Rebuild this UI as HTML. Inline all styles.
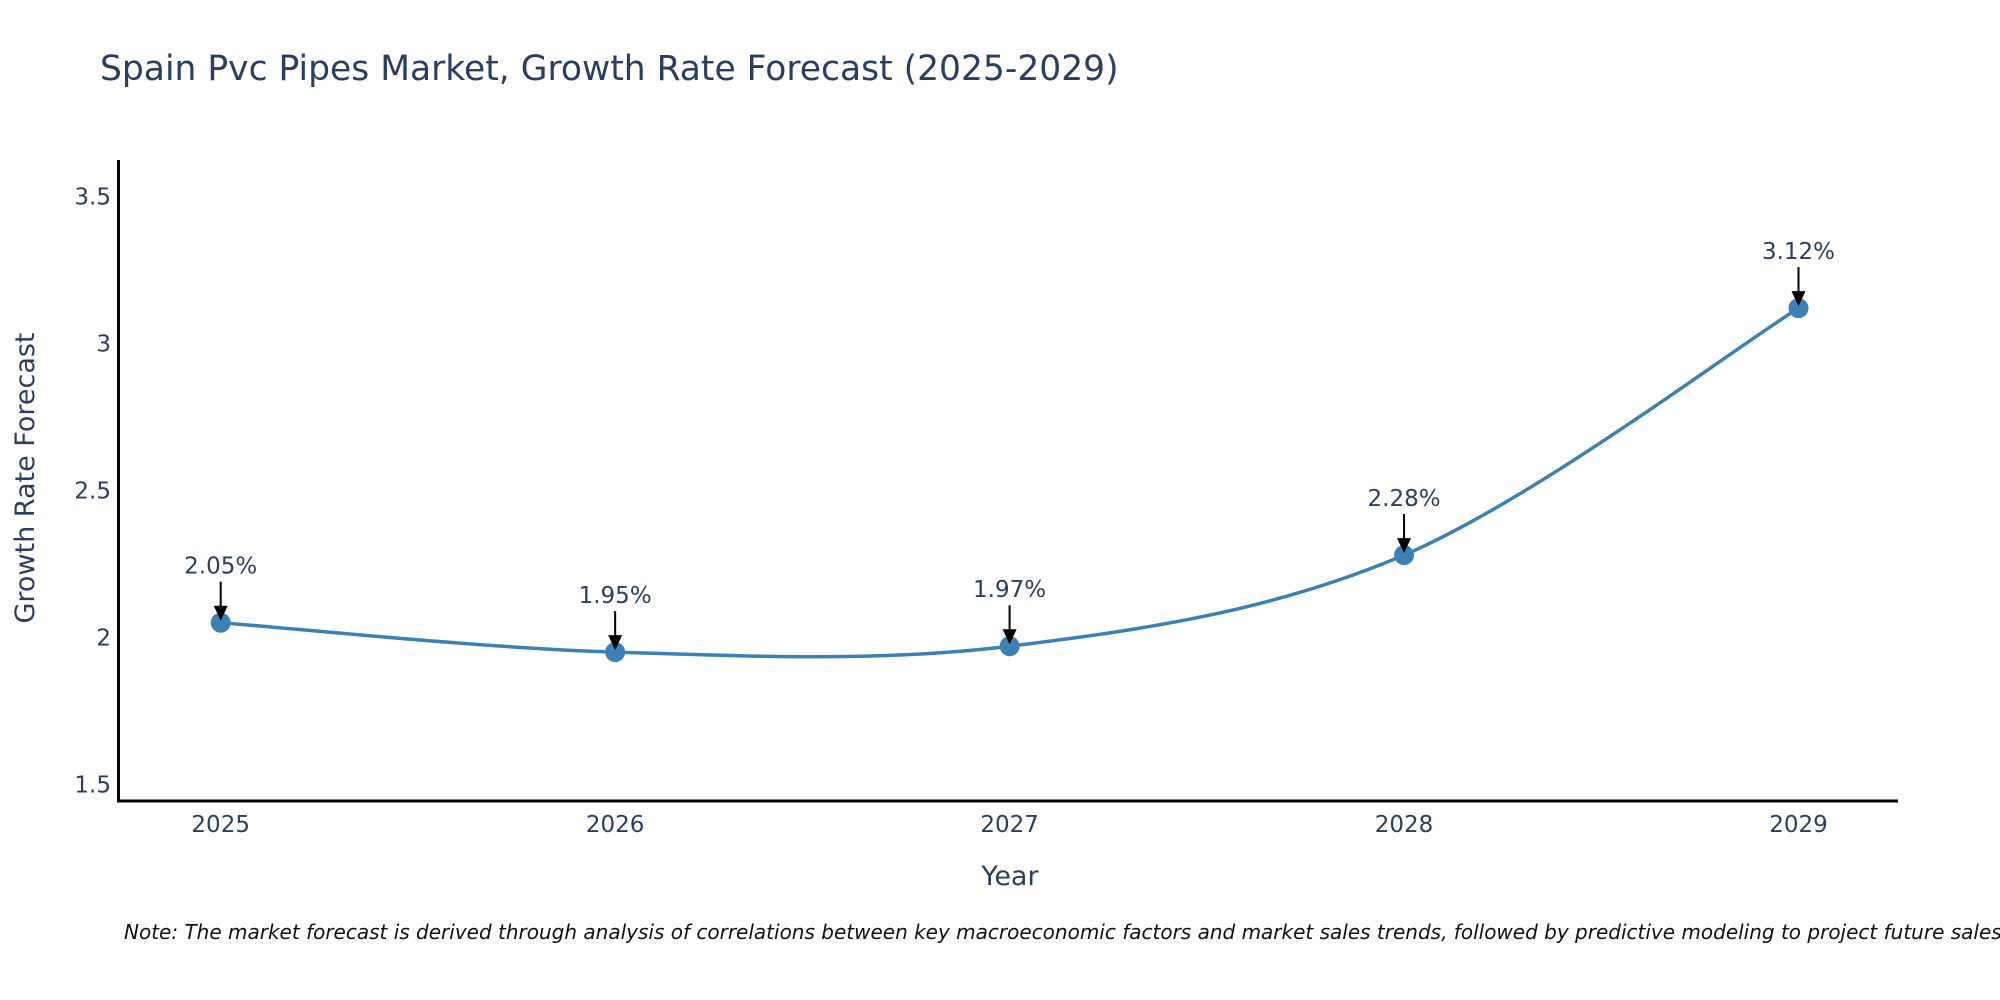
<!DOCTYPE html>
<html><head><meta charset="utf-8"><style>
html,body{margin:0;padding:0;background:#fff}
svg{display:block;font-family:"DejaVu Sans","Liberation Sans",sans-serif}
</style></head><body>
<svg id="chart" width="2000" height="1000" viewBox="0 0 2000 1000">
<text x="100" y="80" font-size="34.5" fill="#2a3f5f">Spain Pvc Pipes Market, Growth Rate Forecast (2025-2029)</text>
<g id="yticks"></g>
<g id="xticks"></g>
<path id="line" fill="none" stroke="#3d80b4" stroke-width="3.5"></path>
<g id="points"></g>
<g id="annots"></g>
<line x1="118.5" y1="160" x2="118.5" y2="802" stroke="#000" stroke-width="3"/>
<line x1="117" y1="801" x2="1898" y2="801" stroke="#000" stroke-width="3"/>
<text transform="translate(34,478) rotate(-90)" text-anchor="middle" font-size="27" fill="#2a3f5f">Growth Rate Forecast</text>
<text x="1010" y="885" text-anchor="middle" font-size="27" fill="#2a3f5f">Year</text>
<text x="124" y="939" font-size="20" font-style="italic" fill="#111">Note: The market forecast is derived through analysis of correlations between key macroeconomic factors and market sales trends, followed by predictive modeling to project future sales.</text>
</svg>
<script>
const years = [2025, 2026, 2027, 2028, 2029];
const values = [2.05, 1.95, 1.97, 2.28, 3.12];
const labels = ["2.05%", "1.95%", "1.97%", "2.28%", "3.12%"];
const yTicks = [1.5, 2, 2.5, 3, 3.5];
const yTickLabels = ["1.5", "2", "2.5", "3", "3.5"];

const NS = "http://www.w3.org/2000/svg";
function xs(v){ return 220.7 + (v - 2025) * 394.45; }
function ys(v){ return 784.4 - (v - 1.5) * 294; }
function mk(tag, attrs, parent){ const e = document.createElementNS(NS, tag); for (const k in attrs) e.setAttribute(k, attrs[k]); parent.appendChild(e); return e; }

const yg = document.getElementById('yticks');
yTicks.forEach((t, i) => {
  const e = mk('text', {x: 111, y: ys(t) + 8, 'text-anchor': 'end', 'font-size': 23, fill: '#2a3f5f'}, yg);
  
  
  e.textContent = yTickLabels[i];
});
const xg = document.getElementById('xticks');
years.forEach(y => {
  const e = mk('text', {x: xs(y), y: 832, 'text-anchor': 'middle', 'font-size': 23, fill: '#2a3f5f'}, xg);
  
  
  e.textContent = String(y);
});

const pts = years.map((y, i) => [xs(y), ys(values[i])]);
const sm = 0.5;
let d = 'M' + pts[0][0] + ',' + pts[0][1];
for (let i = 0; i < pts.length - 1; i++) {
  const p0 = pts[Math.max(0, i - 1)], p1 = pts[i], p2 = pts[i + 1], p3 = pts[Math.min(pts.length - 1, i + 2)];
  const c1 = [p1[0] + (p2[0] - p0[0]) * sm / 3, p1[1] + (p2[1] - p0[1]) * sm / 3];
  const c2 = [p2[0] - (p3[0] - p1[0]) * sm / 3, p2[1] - (p3[1] - p1[1]) * sm / 3];
  d += ' C' + c1.join(',') + ' ' + c2.join(',') + ' ' + p2.join(',');
}
document.getElementById('line').setAttribute('d', d);

const pg = document.getElementById('points');
const ag = document.getElementById('annots');
pts.forEach((p, i) => {
  const c = mk('circle', {cx: p[0], cy: p[1], r: 10, fill: '#3d80b4'}, pg);
  
  
  const l = mk('line', {x1: p[0], y1: p[1] - 41, x2: p[0], y2: p[1] - 14, stroke: '#000', 'stroke-width': 2}, ag);
  
  
  const h = mk('polygon', {points: (p[0]-7)+','+(p[1]-17)+' '+(p[0]+7)+','+(p[1]-17)+' '+p[0]+','+(p[1]-2), fill: '#000'}, ag);
  
  
  const t = mk('text', {x: p[0], y: p[1] - 49, 'text-anchor': 'middle', 'font-size': 23, fill: '#2a3f5f'}, ag);
  
  
  t.textContent = labels[i];
});
</script>
</body></html>
